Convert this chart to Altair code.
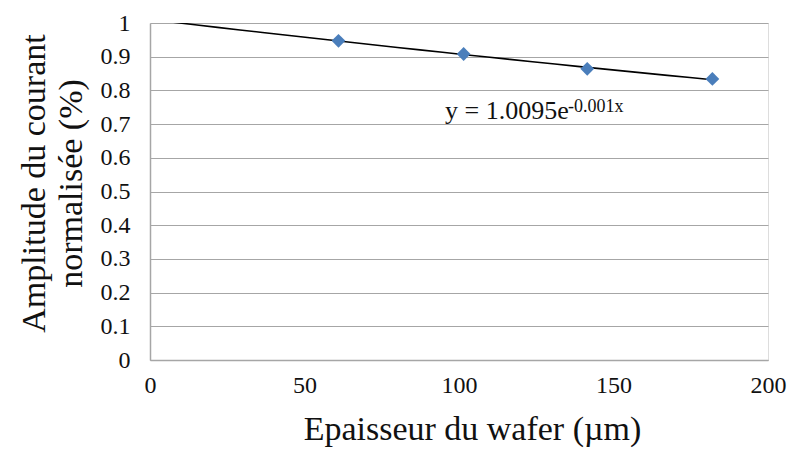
import altair as alt
import pandas as pd

# Data
thickness = [61, 101.5, 141.5, 182]          # Epaisseur du wafer (µm)
amplitude = [0.947, 0.908, 0.864, 0.834]     # Amplitude normalisée
x_ticks = [0, 50, 100, 150, 200]
y_ticks = [0, 0.1, 0.2, 0.3, 0.4, 0.5, 0.6, 0.7, 0.8, 0.9, 1.0]
eq_main = "y = 1.0095e"
eq_sup = "-0.001x"

df = pd.DataFrame({"x": thickness, "y": amplitude})

FONT = "Liberation Serif"
GRID = "#a6a6a6"

x_enc = alt.X(
    "x:Q",
    scale=alt.Scale(domain=[0, 200], nice=False, zero=False),
    axis=alt.Axis(
        values=x_ticks,
        grid=False,
        ticks=False,
        domainColor=GRID,
        domainWidth=1.5,
        labelFont=FONT,
        labelFontSize=24,
        labelColor="#111111",
        labelPadding=13,
        labelFlush=False,
        labelOverlap=False,
        title="Epaisseur du wafer (µm)",
        titleFont=FONT,
        titleFontSize=34,
        titleFontWeight="normal",
        titleColor="#111111",
        titleX=322,
        titleY=79,
        titleBaseline="alphabetic",
        titleAnchor="middle",
        titleAlign="center",
    ),
)

y_enc = alt.Y(
    "y:Q",
    scale=alt.Scale(domain=[0, 1], nice=False, zero=True),
    axis=alt.Axis(
        values=y_ticks,
        format=".1~f",
        grid=True,
        gridColor=GRID,
        gridWidth=1.2,
        ticks=False,
        domainColor=GRID,
        domainWidth=1.5,
        labelFont=FONT,
        labelFontSize=24,
        labelColor="#111111",
        labelPadding=20,
        labelFlush=False,
        labelOverlap=False,
        title=["Amplitude du courant", "normalisée (%)"],
        titleFont=FONT,
        titleFontSize=34,
        titleFontWeight="normal",
        titleColor="#111111",
        titleAngle=270,
        titleX=-106,
        titleY=160,
        titleBaseline="alphabetic",
        titleAlign="center",
        titleLineHeight=37,
    ),
)

base = alt.Chart(df)

points = base.mark_point(
    shape="diamond", filled=True, size=190, color="#4a7ebb", opacity=1
).encode(x=x_enc, y=y_enc)

trend = (
    base.transform_regression("x", "y", method="exp", extent=[0, 182])
    .mark_line(color="black", strokeWidth=1.6, clip=True)
    .encode(x=x_enc, y=y_enc)
)

eq1 = alt.Chart(pd.DataFrame({"t": [eq_main]})).mark_text(
    font=FONT, fontSize=26, align="left", baseline="alphabetic", color="#111111"
).encode(text="t:N", x=alt.value(295), y=alt.value(96))

eq2 = alt.Chart(pd.DataFrame({"t": [eq_sup]})).mark_text(
    font=FONT, fontSize=18, align="left", baseline="alphabetic", color="#111111"
).encode(text="t:N", x=alt.value(418), y=alt.value(89))

chart = (
    alt.layer(trend, points, eq1, eq2)
    .properties(
        width=618,
        height=337,
        autosize=alt.AutoSizeParams(type="none"),
        padding={"left": 150, "top": 23, "right": 29, "bottom": 91},
    )
    .configure_view(stroke=None)
    .configure_axis(labelFont=FONT, titleFont=FONT)
    .configure_text(font=FONT)
    .configure(background="white", font=FONT)
)

chart.save("out.html", embed_options={"renderer": "svg", "actions": False})
